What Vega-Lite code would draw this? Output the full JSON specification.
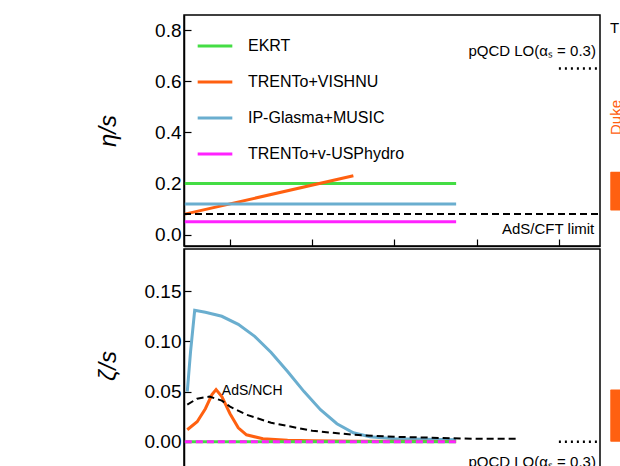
{
"$schema":"https://vega.github.io/schema/vega-lite/v6.json",
"padding":{"top":14,"left":5,"right":5,"bottom":5},
"background":"white",
"config":{"font":"Liberation Sans","view":{"stroke":"black","strokeWidth":1.5},
 "axis":{"tickSize":-7,"tickColor":"black","domainColor":"black","domainWidth":1.5,"tickWidth":1.2,"labelFontSize":19,"labelColor":"black","titleFontSize":21,"titleFontWeight":"normal","titleColor":"black","grid":false,"labelPadding":10},
 "axisY":{"minExtent":58,"maxExtent":58}},
"title":{"text":"ALI-PUB-583987","orient":"bottom","anchor":"start","font":"DejaVu Sans Mono","fontSize":12,"fontWeight":"bold","color":"#999999","offset":4,"dx":-90},
"datasets":{
 "eta":[
  {"model":"EKRT","T":0.145,"v":0.2},{"model":"EKRT","T":0.475,"v":0.2},
  {"model":"TRENTo+VISHNU","T":0.145,"v":0.08},{"model":"TRENTo+VISHNU","T":0.35,"v":0.23},
  {"model":"IP-Glasma+MUSIC","T":0.145,"v":0.12},{"model":"IP-Glasma+MUSIC","T":0.475,"v":0.12},
  {"model":"TRENTo+v-USPhydro","T":0.145,"v":0.05},{"model":"TRENTo+v-USPhydro","T":0.475,"v":0.05}],
 "zeta":[
  {"model":"IP-Glasma+MUSIC","T":0.148,"v":0.05},{"model":"IP-Glasma+MUSIC","T":0.152,"v":0.09},{"model":"IP-Glasma+MUSIC","T":0.157,"v":0.131},{"model":"IP-Glasma+MUSIC","T":0.17,"v":0.129},{"model":"IP-Glasma+MUSIC","T":0.19,"v":0.125},{"model":"IP-Glasma+MUSIC","T":0.21,"v":0.117},{"model":"IP-Glasma+MUSIC","T":0.23,"v":0.105},{"model":"IP-Glasma+MUSIC","T":0.25,"v":0.089},{"model":"IP-Glasma+MUSIC","T":0.27,"v":0.07},{"model":"IP-Glasma+MUSIC","T":0.29,"v":0.05},{"model":"IP-Glasma+MUSIC","T":0.31,"v":0.032},{"model":"IP-Glasma+MUSIC","T":0.33,"v":0.018},{"model":"IP-Glasma+MUSIC","T":0.35,"v":0.009},{"model":"IP-Glasma+MUSIC","T":0.37,"v":0.005},{"model":"IP-Glasma+MUSIC","T":0.4,"v":0.003},{"model":"IP-Glasma+MUSIC","T":0.475,"v":0.002},
  {"model":"TRENTo+VISHNU","T":0.148,"v":0.012},{"model":"TRENTo+VISHNU","T":0.16,"v":0.02},{"model":"TRENTo+VISHNU","T":0.17,"v":0.033},{"model":"TRENTo+VISHNU","T":0.178,"v":0.047},{"model":"TRENTo+VISHNU","T":0.183,"v":0.052},{"model":"TRENTo+VISHNU","T":0.19,"v":0.045},{"model":"TRENTo+VISHNU","T":0.2,"v":0.028},{"model":"TRENTo+VISHNU","T":0.21,"v":0.014},{"model":"TRENTo+VISHNU","T":0.22,"v":0.007},{"model":"TRENTo+VISHNU","T":0.24,"v":0.003},{"model":"TRENTo+VISHNU","T":0.27,"v":0.0015},{"model":"TRENTo+VISHNU","T":0.3,"v":0.001},{"model":"TRENTo+VISHNU","T":0.35,"v":0.0005},{"model":"TRENTo+VISHNU","T":0.475,"v":0.0003},
  {"model":"EKRT","T":0.145,"v":0},{"model":"EKRT","T":0.475,"v":0}],
 "vus":[{"T":0.145,"v":0},{"T":0.475,"v":0}],
 "nch":[{"T":0.148,"v":0.037},{"T":0.16,"v":0.043},{"T":0.175,"v":0.045},{"T":0.19,"v":0.041},{"T":0.2,"v":0.035},{"T":0.22,"v":0.027},{"T":0.25,"v":0.019},{"T":0.3,"v":0.011},{"T":0.35,"v":0.007},{"T":0.4,"v":0.005},{"T":0.5,"v":0.003},{"T":0.55,"v":0.003}],
 "barsTop":[{"g":"Duke","lo":0.094,"hi":0.246},{"g":"Jyvaskyla","lo":0.101,"hi":0.257},{"g":"Trajectum","lo":0.121,"hi":0.277},{"g":"JETSCAPE","lo":0.0,"hi":0.358}],
 "barsBot":[{"g":"Duke","lo":0,"hi":0.052},{"g":"Jyvaskyla","lo":0,"hi":0.028},{"g":"Trajectum","lo":0,"hi":0.012},{"g":"JETSCAPE","lo":0.009,"hi":0.162}]
},
"spacing":0,
"resolve":{"scale":{"color":"independent","x":"independent","y":"independent"},"legend":{"color":"independent"}},
"vconcat":[
 {"spacing":0,"resolve":{"scale":{"color":"independent","x":"independent","y":"independent"},"legend":{"color":"independent"}},
  "hconcat":[
  {"width":416,"height":231,
   "encoding":{"x":{"field":"T","type":"quantitative","scale":{"domain":[0.144,0.65],"nice":false,"zero":false},"axis":{"labels":false,"title":null,"values":[0.2,0.3,0.4,0.5,0.6]}},
    "y":{"field":"v","type":"quantitative","scale":{"domain":[-0.045,0.86],"nice":false},"axis":{"values":[0,0.2,0.4,0.6,0.8],"format":".1f","title":"η/s","titleFontStyle":"italic","titleFontSize":24,"titlePadding":6}}},
   "layer":[
    {"data":{"name":"eta"},"mark":{"type":"line","strokeWidth":3},
     "encoding":{"color":{"field":"model","type":"nominal","scale":{"domain":["EKRT","TRENTo+VISHNU","IP-Glasma+MUSIC","TRENTo+v-USPhydro"],"range":["#44dd44","#ff6010","#6aaecf","#ff22ff"]},
      "legend":{"title":null,"orient":"top-left","offset":12,"symbolType":"stroke","symbolStrokeWidth":3,"symbolSize":1200,"labelFontSize":16,"labelColor":"black","rowPadding":9,"labelOffset":14}}}},
    {"data":{"values":[{"T":0.144,"v":0.08},{"T":0.65,"v":0.08}]},"mark":{"type":"line","color":"black","strokeWidth":2,"strokeDash":[7,4]},"encoding":{}},
    {"data":{"values":[{"T":0.6,"v":0.65},{"T":0.65,"v":0.65}]},"mark":{"type":"line","color":"black","strokeWidth":2.5,"strokeDash":[2,4]},"encoding":{}},
    {"data":{"values":[{"T":0.645,"v":0.72,"t":"pQCD LO(αₛ = 0.3)"},{"T":0.643,"v":0.02,"t":"AdS/CFT limit"}]},"mark":{"type":"text","align":"right","fontSize":15,"color":"black"},"encoding":{"text":{"field":"t"}}}
   ]},
  {"width":84,"height":231,"data":{"name":"barsTop"},"view":{"stroke":null},
   "encoding":{"x":{"field":"g","type":"nominal","sort":null,"scale":{"domain":["Duke","Jyvaskyla","Trajectum","JETSCAPE"],"paddingInner":0.45,"paddingOuter":0.2},"axis":null}},
   "layer":[
    {"mark":{"type":"bar","cornerRadius":1},"encoding":{"y":{"field":"lo","type":"quantitative","scale":{"domain":[-0.045,0.86],"nice":false},"axis":null},"y2":{"field":"hi"},"color":{"field":"g","type":"nominal","scale":{"domain":["Duke","Jyvaskyla","Trajectum","JETSCAPE"],"range":["#ff6010","#0000ff","#003300","#dd3333"]},"legend":null}}},
    {"mark":{"type":"text","angle":270,"align":"left","baseline":"middle","fontSize":15},"encoding":{"y":{"datum":0.39,"type":"quantitative"},"text":{"field":"g"},"color":{"field":"g","type":"nominal","legend":null}}},
    {"data":{"values":[{"g":"Duke","t":"T = 0.3 GeV"}]},"mark":{"type":"text","align":"left","fontSize":15,"color":"black","dx":-6},"encoding":{"y":{"datum":0.81,"type":"quantitative"},"text":{"field":"t"}}}
   ]}
 ]},
 {"spacing":0,"resolve":{"scale":{"color":"independent","x":"independent","y":"independent"},"legend":{"color":"independent"}},
  "hconcat":[
  {"width":416,"height":233,
   "encoding":{"x":{"field":"T","type":"quantitative","scale":{"domain":[0.144,0.65],"nice":false,"zero":false},"axis":{"values":[0.2,0.3,0.4,0.5,0.6],"format":".1f","title":"Temperature (GeV)","titlePadding":4}},
    "y":{"field":"v","type":"quantitative","scale":{"domain":[-0.04,0.192],"nice":false},"axis":{"values":[0,0.05,0.1,0.15],"format":".2f","title":"ζ/s","titleFontStyle":"italic","titleFontSize":24,"titlePadding":6}}},
   "layer":[
    {"data":{"name":"zeta"},"mark":{"type":"line","strokeWidth":3},
     "encoding":{"color":{"field":"model","type":"nominal","scale":{"domain":["EKRT","TRENTo+VISHNU","IP-Glasma+MUSIC","TRENTo+v-USPhydro"],"range":["#44dd44","#ff6010","#6aaecf","#ff22ff"]},"legend":null}}},
    {"data":{"name":"vus"},"mark":{"type":"line","strokeWidth":3,"color":"#ff22ff","strokeDash":[7,4]},"encoding":{}},
    {"data":{"name":"nch"},"mark":{"type":"line","strokeWidth":2,"color":"black","strokeDash":[7,4]},"encoding":{}},
    {"data":{"values":[{"T":0.6,"v":0},{"T":0.65,"v":0}]},"mark":{"type":"line","color":"black","strokeWidth":2.5,"strokeDash":[2,4]},"encoding":{}},
    {"data":{"values":[{"T":0.645,"v":-0.02,"t":"pQCD LO(αₛ = 0.3)"}]},"mark":{"type":"text","align":"right","fontSize":15,"color":"black"},"encoding":{"text":{"field":"t"}}},
    {"data":{"values":[{"T":0.19,"v":0.051,"t":"AdS/NCH"}]},"mark":{"type":"text","align":"left","fontSize":14,"color":"black"},"encoding":{"text":{"field":"t"}}}
   ]},
  {"width":84,"height":233,"data":{"name":"barsBot"},"view":{"stroke":null},
   "encoding":{"x":{"field":"g","type":"nominal","sort":null,"scale":{"domain":["Duke","Jyvaskyla","Trajectum","JETSCAPE"],"paddingInner":0.45,"paddingOuter":0.2},"axis":null}},
   "layer":[
    {"mark":{"type":"bar","cornerRadius":1},"encoding":{"y":{"field":"lo","type":"quantitative","scale":{"domain":[-0.04,0.192],"nice":false},"axis":null},"y2":{"field":"hi"},"color":{"field":"g","type":"nominal","scale":{"domain":["Duke","Jyvaskyla","Trajectum","JETSCAPE"],"range":["#ff6010","#0000ff","#003300","#dd3333"]},"legend":null}}},
    {"data":{"values":[{"g":"Duke","t":"T = 0.2 GeV"}]},"mark":{"type":"text","align":"left","fontSize":15,"color":"black","dx":-6},"encoding":{"y":{"datum":-0.033,"type":"quantitative"},"text":{"field":"t"}}}
   ]}
 ]}
]
}
